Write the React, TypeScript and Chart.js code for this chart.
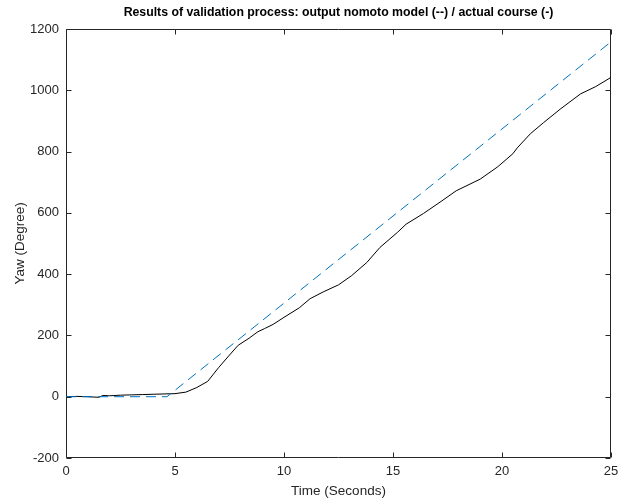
import React, { useEffect, useRef } from "react";
import { Chart, registerables } from "chart.js";

Chart.register(...registerables);

// Actual course (black solid)
const actualTime = [0, 0.5, 1, 1.5, 1.7, 2, 2.5, 3, 3.5, 4, 4.5, 5, 5.5, 6, 6.5, 7, 7.5, 7.9, 8.4, 8.8, 9.1, 9.5, 10, 10.7, 11.2, 11.8, 12.5, 13.1, 13.8, 14.4, 15.2, 15.6, 16.4, 17.2, 17.9, 19, 19.8, 20.5, 20.7, 21.3, 21.9, 22.7, 23.6, 24.3, 25];
const actualYaw = [0, 1, 0, -2, 4, 3, 5, 6, 7, 8, 9, 10, 15, 30, 50, 95, 136, 168, 191, 212, 222, 236, 259, 290, 320, 342, 365, 395, 438, 487, 536, 563, 598, 637, 672, 710, 750, 793, 812, 858, 894, 940, 988, 1012, 1042];

// Nomoto model output (blue dashed)
const modelTime = [0, 4.63, 25];
const modelYaw = [0, 0, 1158];

const xTicks = [0, 5, 10, 15, 20, 25];
const yTicks = [-200, 0, 200, 400, 600, 800, 1000, 1200];

const titleText = "Results of validation process: output nomoto model (--) / actual course (-)";
const xLabel = "Time (Seconds)";
const yLabel = "Yaw (Degree)";

const FONT = "'Liberation Sans', Arial, Helvetica, sans-serif";
const AXIS_COLOR = "#262626";

const boxPlugin = {
  id: "matlabBox",
  beforeDatasetsDraw(chart: any) {
    const { ctx, chartArea, scales } = chart;
    const l = Math.round(chartArea.left) + 0.5;
    const r = Math.round(chartArea.right) - 0.5;
    const t = Math.round(chartArea.top) + 0.5;
    const b = Math.round(chartArea.bottom) - 0.5;
    const len = 5;
    ctx.save();
    ctx.strokeStyle = AXIS_COLOR;
    ctx.lineWidth = 1;
    ctx.beginPath();
    ctx.rect(l, t, r - l, b - t);
    for (const v of xTicks) {
      const x = Math.round(scales.x.getPixelForValue(v)) + 0.5;
      ctx.moveTo(x, b);
      ctx.lineTo(x, b - len);
      ctx.moveTo(x, t);
      ctx.lineTo(x, t + len);
    }
    for (const v of yTicks) {
      const y = Math.round(scales.y.getPixelForValue(v)) + 0.5;
      ctx.moveTo(l, y);
      ctx.lineTo(l + len, y);
      ctx.moveTo(r, y);
      ctx.lineTo(r - len, y);
    }
    ctx.stroke();
    ctx.restore();
  },
};

export default function App() {
  const ref = useRef<HTMLCanvasElement>(null);
  useEffect(() => {
    const canvas = ref.current!;
    const chart = new Chart(canvas, {
      type: "line",
      data: {
        datasets: [
          {
            label: "model",
            data: modelTime.map((t, i) => ({ x: t, y: modelYaw[i] })),
            borderColor: "#0072BD",
            borderWidth: 1,
            borderDash: [10, 6],
            pointRadius: 0,
            fill: false,
            tension: 0,
            order: 0,
          },
          {
            label: "actual",
            data: actualTime.map((t, i) => ({ x: t, y: actualYaw[i] })),
            borderColor: "#000000",
            borderWidth: 1,
            pointRadius: 0,
            fill: false,
            tension: 0,
            order: 1,
          },
        ],
      },
      plugins: [boxPlugin],
      options: {
        responsive: false,
        animation: false,
        events: [],
        layout: { padding: { left: 0, right: 18, top: 0, bottom: 0 } },
        plugins: {
          legend: { display: false },
          tooltip: { enabled: false },
          title: {
            display: true,
            text: titleText,
            fullSize: false,
            color: "#000000",
            font: { family: FONT, size: 12.3, weight: "bold", lineHeight: 1.2 },
            padding: { top: 5, bottom: 9.2 },
          },
        },
        scales: {
          x: {
            type: "linear",
            min: 0,
            max: 25,
            afterBuildTicks: (s: any) => {
              s.ticks = xTicks.map((v) => ({ value: v }));
            },
            afterFit: (s: any) => {
              s.height = 40;
            },
            grid: { display: false, drawTicks: false },
            border: { display: false },
            ticks: {
              color: AXIS_COLOR,
              font: { family: FONT, size: 13 },
              padding: 6,
              maxRotation: 0,
              callback: (v: any) => String(v),
            },
            title: {
              display: true,
              text: xLabel,
              color: AXIS_COLOR,
              font: { family: FONT, size: 13.5, lineHeight: 1 },
              padding: { top: 0, bottom: 0 },
            },
          },
          y: {
            type: "linear",
            min: -200,
            max: 1200,
            afterBuildTicks: (s: any) => {
              s.ticks = yTicks.map((v) => ({ value: v }));
            },
            afterFit: (s: any) => {
              s.width = 66;
            },
            grid: { display: false, drawTicks: false },
            border: { display: false },
            ticks: {
              color: AXIS_COLOR,
              font: { family: FONT, size: 13 },
              padding: 7,
              callback: (v: any) => String(v),
            },
            title: {
              display: true,
              text: yLabel,
              color: AXIS_COLOR,
              font: { family: FONT, size: 13.5, lineHeight: 1 },
              padding: { top: 14, bottom: 0 },
            },
          },
        },
      },
    });
    return () => chart.destroy();
  }, []);
  return (
    <div style={{ position: "fixed", left: 0, top: 0, width: 629, height: 498, background: "#ffffff" }}>
      <canvas ref={ref} width={629} height={498} style={{ display: "block" }} />
    </div>
  );
}
